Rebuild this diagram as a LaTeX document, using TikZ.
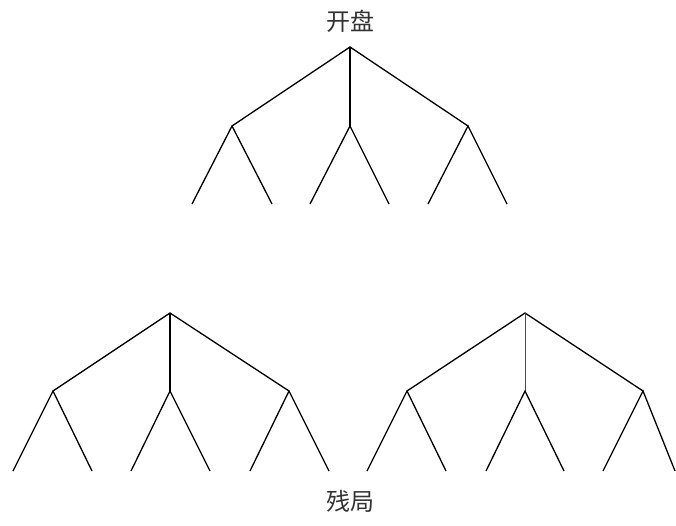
\documentclass[tikz,border=0pt]{standalone}
\usepackage{fontspec}
\newfontfamily\cjk{Noto Sans CJK SC}
\begin{document}
\begin{tikzpicture}[x=1pt, y=-1pt, line width=1.3pt,
    lbl/.style={font=\cjk\fontsize{24}{24}\selectfont, text=black!80, inner sep=0pt}]
    \useasboundingbox (0,0) rectangle (676,526);
    % Opening tree
    \node[lbl] (open) at (350,21) {开盘};
    \coordinate (r) at (350,47);
    \coordinate (a) at (232,126);
    \coordinate (b) at (350,126);
    \coordinate (c) at (468,126);
    \coordinate (a1) at (192,204); \coordinate (a2) at (272,204);
    \coordinate (b1) at (310,204); \coordinate (b2) at (389,204);
    \coordinate (c1) at (428,204); \coordinate (c2) at (507,204);
    \draw (a) -- (r) -- (c);
    \draw (r) -- (b);
    \draw (a1) -- (a) -- (a2);
    \draw (b1) -- (b) -- (b2);
    \draw (c1) -- (c) -- (c2);

    % Endgame trees
    \coordinate (L) at (170,313);
    \coordinate (La) at (53,391);
    \coordinate (Lb) at (170,391);
    \coordinate (Lc) at (289,391);
    \coordinate (La1) at (13,471);  \coordinate (La2) at (92,471);
    \coordinate (Lb1) at (131,471); \coordinate (Lb2) at (210,471);
    \coordinate (Lc1) at (250,471); \coordinate (Lc2) at (329,471);
    \draw (La) -- (L) -- (Lc);
    \draw (L) -- (Lb);
    \draw (La1) -- (La) -- (La2);
    \draw (Lb1) -- (Lb) -- (Lb2);
    \draw (Lc1) -- (Lc) -- (Lc2);

    \coordinate (R) at (525,313);
    \coordinate (Ra) at (407,391);
    \coordinate (Rb) at (525,391);
    \coordinate (Rc) at (643,391);
    \coordinate (Ra1) at (367,471); \coordinate (Ra2) at (446,471);
    \coordinate (Rb1) at (486,471); \coordinate (Rb2) at (564,471);
    \coordinate (Rc1) at (603,471); \coordinate (Rc2) at (675,471);
    \draw (Ra) -- (R) -- (Rc);
    \draw[line width=0.7pt, black!70] (R) -- (Rb);
    \draw (Ra1) -- (Ra) -- (Ra2);
    \draw (Rb1) -- (Rb) -- (Rb2);
    \draw (Rc1) -- (Rc) -- (Rc2);

    \node[lbl] (end) at (350,501) {残局};
\end{tikzpicture}
\end{document}
